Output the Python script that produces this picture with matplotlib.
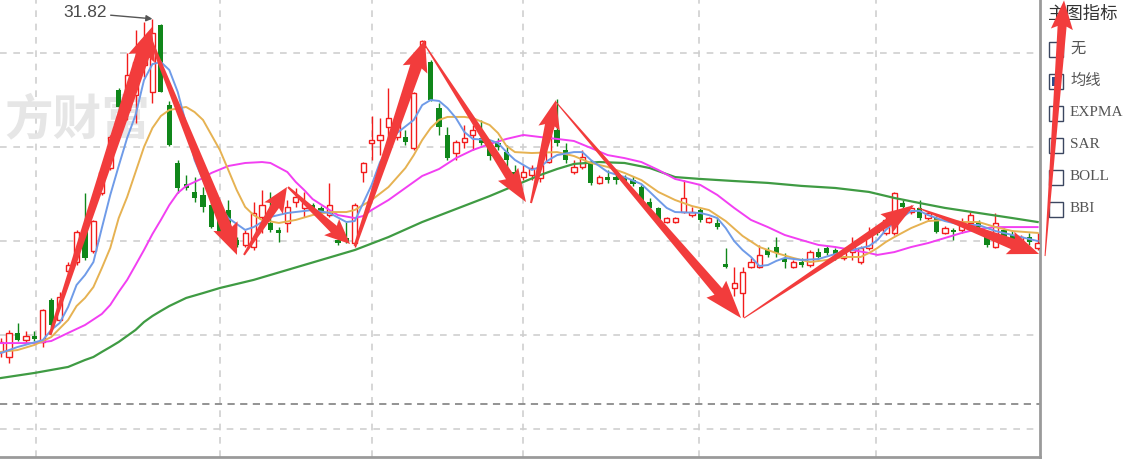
import numpy as np
import matplotlib
matplotlib.use("Agg")
import matplotlib.pyplot as plt
from matplotlib.patches import Polygon, Rectangle

# daily OHLC, one entry per candle (left to right)
opens = [
    14.10, 13.83, 15.11, 14.73, 14.95, 14.63, 16.86, 15.80, 18.40, 18.88,
    20.59, 19.47, 22.55, 23.88, 28.03, 26.97, 27.77, 29.36, 27.93, 31.49,
    27.23, 24.15, 23.03, 22.61, 22.45, 21.91, 21.38, 21.65, 20.05, 19.79,
    19.68, 21.28, 20.96, 20.59, 20.96, 22.07, 21.76, 21.91, 21.76, 21.38,
    20.05, 20.16, 19.89, 23.67, 25.21, 25.37, 26.06, 25.53, 25.53, 24.95,
    30.32, 29.52, 27.07, 25.64, 24.68, 25.27, 25.64, 25.48, 25.11, 25.21,
    24.73, 23.67, 23.40, 23.51, 23.35, 24.20, 25.90, 24.84, 23.67, 23.94,
    24.15, 23.09, 23.40, 23.40, 23.40, 23.24, 22.87, 22.07, 21.76, 21.01,
    21.01, 21.54, 21.38, 21.65, 21.01, 20.96, 18.78, 17.50, 17.23, 18.62,
    18.62, 19.52, 19.68, 19.10, 18.62, 18.88, 18.72, 19.41, 19.63, 19.52,
    19.10, 19.41, 18.88, 19.63, 20.64, 20.43, 20.43, 22.02, 21.54, 21.76,
    21.22, 21.22, 20.43, 20.59, 20.59, 20.96, 20.96, 20.21, 19.68, 20.59,
    20.32, 19.89, 20.21, 19.63]
closes = [
    14.63, 15.11, 14.73, 14.95, 14.79, 16.33, 15.53, 17.02, 18.72, 20.48,
    19.10, 21.06, 23.67, 25.53, 27.13, 28.83, 29.52, 30.69, 31.06, 27.93,
    25.11, 22.82, 22.82, 22.29, 21.81, 20.74, 20.48, 20.74, 19.79, 20.43,
    21.49, 21.91, 20.59, 20.43, 21.81, 22.34, 22.02, 21.65, 21.49, 21.91,
    19.89, 19.95, 21.91, 24.15, 25.37, 25.64, 26.54, 26.28, 25.27, 27.87,
    30.64, 27.50, 26.06, 24.41, 25.27, 25.48, 25.90, 25.21, 24.52, 25.00,
    24.31, 23.46, 23.67, 23.88, 24.04, 25.90, 25.21, 24.31, 23.94, 24.47,
    23.09, 23.40, 23.24, 23.24, 23.14, 23.03, 22.07, 21.76, 21.01, 21.22,
    21.22, 22.29, 21.54, 21.12, 21.22, 20.74, 18.62, 17.77, 18.35, 18.88,
    19.26, 19.26, 19.36, 18.88, 18.88, 18.72, 19.41, 19.15, 19.36, 19.26,
    19.36, 19.68, 19.63, 20.32, 20.43, 21.12, 22.55, 21.81, 21.76, 21.22,
    21.49, 20.48, 20.69, 20.48, 20.90, 21.38, 20.74, 19.79, 20.96, 20.21,
    20.05, 20.21, 19.95, 19.89]
highs = [
    14.84, 15.27, 15.64, 15.21, 15.21, 16.38, 16.97, 17.29, 18.88, 20.59,
    22.55, 21.12, 23.88, 25.64, 28.14, 30.00, 31.22, 31.65, 31.82, 31.55,
    27.45, 24.31, 23.51, 23.40, 22.87, 22.18, 21.65, 22.18, 20.21, 20.59,
    22.07, 22.71, 22.61, 20.74, 22.18, 22.82, 22.61, 22.02, 21.86, 23.09,
    21.01, 21.01, 22.02, 24.20, 26.65, 26.54, 28.14, 26.54, 25.90, 27.93,
    30.69, 29.63, 27.34, 26.06, 25.37, 26.17, 26.17, 26.44, 25.21, 25.48,
    25.11, 24.04, 24.04, 24.04, 24.31, 26.01, 27.55, 25.21, 24.31, 24.84,
    24.31, 23.51, 23.78, 23.67, 23.51, 23.46, 22.98, 22.29, 21.81, 21.28,
    21.28, 23.24, 21.81, 21.76, 21.28, 21.22, 19.63, 18.62, 18.62, 19.10,
    19.79, 19.68, 20.21, 19.36, 18.99, 19.10, 19.52, 19.63, 19.73, 19.63,
    19.52, 20.21, 19.73, 20.74, 20.74, 21.33, 22.61, 22.18, 21.91, 22.18,
    21.60, 21.33, 20.80, 20.69, 21.22, 21.54, 21.12, 20.32, 21.49, 20.69,
    20.59, 20.32, 20.43, 20.43]
lows = [
    13.83, 13.51, 14.68, 14.57, 14.68, 14.36, 15.37, 15.69, 18.30, 18.72,
    18.99, 19.36, 22.45, 23.78, 26.97, 26.44, 26.28, 28.72, 27.34, 27.90,
    25.05, 22.55, 22.71, 22.07, 21.54, 20.69, 20.32, 20.64, 19.68, 19.68,
    19.52, 20.43, 20.48, 19.95, 20.48, 21.81, 21.28, 21.54, 21.38, 21.28,
    19.79, 19.89, 19.68, 23.14, 24.31, 24.57, 25.37, 25.37, 25.11, 24.84,
    30.27, 27.45, 25.64, 24.31, 24.31, 24.95, 24.84, 25.11, 24.31, 24.84,
    23.62, 23.24, 23.24, 23.24, 23.14, 24.15, 25.05, 24.15, 23.56, 23.83,
    22.98, 23.03, 23.09, 23.03, 22.98, 22.93, 21.97, 21.54, 20.96, 20.96,
    20.96, 21.49, 21.28, 21.01, 20.96, 20.64, 18.56, 17.07, 15.96, 18.56,
    18.56, 19.15, 19.15, 18.56, 18.56, 18.62, 18.62, 19.04, 19.26, 18.99,
    18.99, 18.99, 18.78, 19.52, 20.32, 20.32, 20.32, 21.65, 21.44, 21.12,
    21.12, 20.43, 20.37, 20.05, 20.43, 20.74, 20.64, 19.68, 19.63, 20.11,
    19.95, 19.79, 19.79, 19.52]

# moving averages (candle index, price)
ma5_idx = [0, 2, 5, 6, 7, 8, 9, 10, 11, 12, 13, 14, 15, 16, 17, 18, 19, 20, 21, 22,
           23, 24, 25, 27, 29, 30, 32, 34, 37, 39, 41, 42, 44, 45, 47, 49, 50, 51, 52, 53,
           54, 55, 56, 58, 59, 60, 61, 63, 64, 65, 66, 68, 69, 70, 72, 74, 76, 77, 78, 79,
           80, 83, 84, 85, 86, 87, 88, 89, 90, 91, 92, 93, 95, 97, 99, 101, 103, 104, 105, 106,
           107, 108, 109, 110, 112, 114, 116, 118, 120, 123]
ma5_val = [14.04, 14.36, 14.73, 15.27, 15.64, 16.49, 17.66, 18.19, 18.88, 20.69,
           22.45, 23.99, 25.48, 26.70, 28.56, 29.41, 29.52, 29.10, 27.93, 26.22,
           24.31, 23.24, 22.45, 21.22, 20.59, 20.74, 21.28, 21.49, 21.65, 21.49,
           21.01, 21.06, 22.98, 24.20, 25.74, 26.44, 27.23, 27.50, 27.45, 27.07,
           26.54, 25.80, 25.43, 25.37, 25.21, 24.73, 24.31, 23.78, 23.94, 24.31,
           24.57, 24.73, 24.73, 24.31, 23.67, 23.40, 23.03, 22.61, 22.18, 21.76,
           21.54, 21.49, 21.38, 21.22, 20.69, 20.00, 19.52, 19.15, 18.67, 18.72,
           18.94, 19.10, 18.99, 19.04, 19.31, 19.52, 19.73, 20.05, 20.59, 21.01,
           21.28, 21.60, 21.60, 21.38, 21.06, 20.85, 20.85, 20.53, 20.32, 20.00]
ma10_idx = [0, 2, 4, 6, 8, 9, 10, 11, 12, 13, 14, 15, 16, 17, 18, 19, 20, 22, 23, 24,
            25, 26, 27, 28, 29, 30, 31, 33, 35, 37, 39, 41, 42, 44, 46, 48, 49, 50, 51, 52,
            53, 55, 56, 58, 59, 60, 61, 63, 66, 68, 70, 72, 74, 76, 78, 80, 82, 84, 86, 88,
            90, 92, 94, 96, 98, 100, 102, 103, 104, 105, 106, 108, 110, 112, 114, 116, 118, 120, 123]
ma10_val = [14.10, 14.20, 14.47, 14.89, 15.80, 16.54, 16.97, 17.55, 18.56, 19.63,
            21.22, 22.34, 23.67, 25.00, 26.01, 26.65, 26.97, 27.13, 26.86, 26.44,
            25.64, 24.84, 23.78, 22.71, 21.81, 21.38, 21.12, 20.96, 21.12, 21.38,
            21.54, 21.54, 21.65, 22.18, 22.87, 23.88, 24.57, 25.37, 26.01, 26.44,
            26.60, 26.60, 26.54, 26.17, 25.74, 25.05, 24.73, 24.68, 24.73, 24.52,
            24.15, 23.94, 23.62, 23.24, 22.61, 22.18, 21.86, 21.65, 21.06, 20.27,
            19.68, 19.36, 19.10, 18.88, 18.99, 19.15, 19.15, 19.36, 19.63, 19.95,
            20.21, 20.69, 21.06, 21.12, 21.01, 21.01, 20.74, 20.53, 20.43]
ma20_idx = [0, 4, 6, 8, 10, 12, 13, 14, 15, 16, 17, 18, 19, 20, 21, 22, 24, 25, 27, 29,
            31, 32, 34, 35, 36, 37, 39, 40, 42, 43, 44, 46, 48, 50, 52, 54, 56, 58, 60, 62,
            64, 66, 68, 70, 72, 74, 76, 78, 80, 82, 83, 85, 87, 89, 91, 93, 95, 97, 99, 101,
            103, 104, 106, 108, 110, 112, 114, 116, 118, 120, 123]
ma20_val = [14.57, 14.57, 14.68, 15.11, 15.53, 16.12, 16.60, 17.29, 17.93, 18.72,
            19.52, 20.37, 21.12, 21.91, 22.55, 22.93, 23.35, 23.62, 23.99, 24.15,
            24.20, 24.15, 23.67, 23.14, 22.71, 22.23, 21.65, 21.38, 21.22, 21.33,
            21.65, 22.18, 22.82, 23.46, 23.83, 24.41, 24.84, 25.16, 25.43, 25.64,
            25.53, 25.43, 25.32, 24.95, 24.57, 24.41, 24.20, 23.78, 23.30, 23.09,
            22.98, 22.45, 21.76, 21.12, 20.74, 20.32, 20.05, 19.79, 19.68, 19.52,
            19.36, 19.26, 19.41, 19.68, 19.89, 20.16, 20.43, 20.64, 20.74, 20.74, 20.74]
ma60_idx = [0, 4, 6, 8, 10, 11, 12, 13, 14, 15, 16, 17, 18, 19, 20, 22, 24, 26, 30, 34,
            38, 42, 46, 50, 54, 58, 62, 64, 66, 68, 71, 74, 77, 80, 83, 87, 91, 95, 99, 103,
            106, 109, 112, 116, 120, 123]
ma60_val = [12.71, 12.98, 13.14, 13.30, 13.67, 13.83, 14.10, 14.36, 14.63, 14.95,
            15.27, 15.69, 16.01, 16.28, 16.54, 16.97, 17.23, 17.50, 17.93, 18.46,
            18.99, 19.52, 20.21, 21.01, 21.70, 22.39, 23.14, 23.51, 23.83, 24.10,
            24.20, 24.15, 23.88, 23.40, 23.30, 23.19, 23.09, 22.93, 22.82, 22.61,
            22.29, 22.02, 21.76, 21.49, 21.22, 21.01]

# hand drawn red trend arrows (candle index, price)
arrow_x0 = [5.85, 17.7, 28.86, 34.08, 42.03, 50.09, 62.9, 65.87, 88.17, 108.81, 123.88]
arrow_y0 = [15.00, 30.80, 19.26, 22.87, 19.73, 30.59, 22.02, 27.39, 15.90, 21.76, 19.20]
arrow_x1 = [17.95, 28.03, 33.96, 41.44, 50.33, 62.31, 65.87, 87.82, 108.34, 123.17, 126.13]
arrow_y1 = [31.38, 19.26, 22.87, 19.84, 30.69, 22.07, 27.50, 15.90, 21.91, 19.31, 32.80]

price_grid = [10, 15, 20, 25, 30]
month_lines = [4.2, 26.0, 44.1, 62.0, 82.8, 103.8]
divider_price = 11.33
peak_idx, peak_price = 18, 31.82

menu_title = "主图指标"
menu_items = ["无", "均线", "EXPMA", "SAR", "BOLL", "BBI"]
menu_checked = 1

RED = "#f21c1c"
GREEN = "#10871a"
ARROW = "#f23c3c"

W, H = 1142, 459
fig = plt.figure(figsize=(W / 100, H / 100), dpi=100)
fig.patch.set_facecolor("white")

ax = fig.add_axes([0, 2 / H, 1040 / W, 457 / H])
ax.set_zorder(2)
ax.set_xlim(-0.08, 123.28)
ax.set_ylim(8.51, 32.82)

ax.set_yticks(price_grid)
ax.set_xticks(month_lines)
ax.tick_params(length=0, labelleft=False, labelbottom=False)
ax.set_axisbelow(True)
ax.grid(True, color="#cfcfcf", ls=(0, (4, 4)), lw=1.2)
ax.axhline(divider_price, color="#8a8a8a", ls=(0, (4, 3)), lw=1.3, zorder=1)
for s in ("top", "left"):
    ax.spines[s].set_visible(False)
for s in ("bottom", "right"):
    ax.spines[s].set_color("#9a9a9a")
    ax.spines[s].set_linewidth(2)

# watermark (first character sits off the left edge in the screenshot)
ax.text(0.004, 0.737, "方财富", transform=ax.transAxes, ha="left", va="center",
        fontsize=35, fontweight="bold", color="#e6e6e6",
        family=["Noto Sans CJK SC", "DejaVu Sans"], zorder=1)

# candles
o = np.array(opens); c = np.array(closes)
hi = np.array(highs); lo = np.array(lows)
x = np.arange(len(o))
up = c >= o
cols = np.where(up, RED, GREEN)
ax.vlines(x, lo, hi, colors=cols, lw=1, zorder=2)
bot = np.minimum(o, c)
ht = np.maximum(np.abs(c - o), 0.06)
ax.bar(x[up], ht[up], bottom=bot[up], width=0.62, facecolor="white",
       edgecolor=RED, lw=1, zorder=3)
ax.bar(x[~up], ht[~up], bottom=bot[~up], width=0.62, color=GREEN, lw=0, zorder=3)

# moving averages
ax.plot(ma60_idx, ma60_val, color="#3f9b43", lw=1.6, zorder=4)
ax.plot(ma20_idx, ma20_val, color="#f23ff2", lw=1.4, zorder=4)
ax.plot(ma10_idx, ma10_val, color="#e6b252", lw=1.4, zorder=4)
ax.plot(ma5_idx, ma5_val, color="#6f9be8", lw=1.4, zorder=4)

ax.annotate(f"{peak_price:.2f}", xy=(peak_idx, peak_price), xytext=(7.39, 32.13),
            ha="left", va="center", fontsize=12.5, color="#4a4a4a",
            family="Liberation Sans",
            arrowprops=dict(arrowstyle="-|>", color="#555555", lw=1.0,
                            mutation_scale=9, shrinkA=1, shrinkB=0),
            zorder=5)


def draw_arrow(ax, x0, y0, x1, y1, tail_w, neck_w, head_w, head_l):
    p0 = ax.transData.transform((x0, y0))
    p1 = ax.transData.transform((x1, y1))
    d = p1 - p0
    u = d / np.hypot(*d)
    n = np.array([-u[1], u[0]])
    base = p1 - u * head_l
    pts = [p0 + n * tail_w / 2, base + n * neck_w / 2, base - u * 3 + n * head_w / 2, p1,
           base - u * 3 - n * head_w / 2, base - n * neck_w / 2, p0 - n * tail_w / 2]
    pts = ax.transData.inverted().transform(pts)
    ax.add_patch(Polygon(pts, closed=True, facecolor=ARROW, edgecolor="none",
                         zorder=6, clip_on=False))


tail_w = [3, 3, 2, 2, 3, 1, 2, 1, 1, 1, 1]
neck_w = [14, 12, 9, 9, 12, 9, 10, 10, 8, 11, 9]
head_w = [28, 26, 22, 22, 26, 24, 22, 26, 22, 24, 22]
head_l = [30, 28, 22, 22, 28, 30, 26, 35, 30, 28, 26]
for i in range(len(arrow_x0)):
    draw_arrow(ax, arrow_x0[i], arrow_y0[i], arrow_x1[i], arrow_y1[i],
               tail_w[i], neck_w[i], head_w[i], head_l[i])

# right side indicator menu
pan = fig.add_axes([1040 / W, 0, 102 / W, 1])
pan.set_zorder(1)
pan.set_xlim(1040, 1142)
pan.set_ylim(H, 0)
pan.axis("off")
pan.patch.set_alpha(0)
pan.text(1048, 14, menu_title, ha="left", va="center", fontsize=12.5, color="#333333",
         family=["Noto Sans CJK SC", "DejaVu Sans"])
row_y = [49, 81, 113, 145, 177, 209]
for k, (lab, yc) in enumerate(zip(menu_items, row_y)):
    pan.add_patch(Rectangle((1048.5, yc - 7.5), 14, 15, facecolor="white",
                            edgecolor="#3b4660", lw=1))
    if k == menu_checked:
        pan.add_patch(Rectangle((1051.5, yc - 4.5), 8, 9, facecolor="#2b4c8c", lw=0))
    pan.text(1070, yc, lab, ha="left", va="center", fontsize=11, color="#555555",
             family=["Liberation Serif", "Noto Sans CJK SC"])

fig.savefig("out.png", dpi=100)
